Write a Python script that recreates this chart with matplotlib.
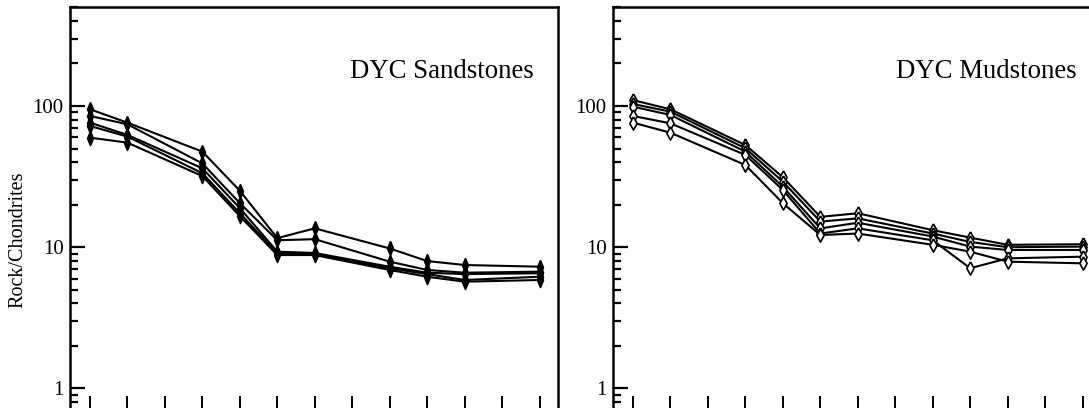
import matplotlib
matplotlib.use("Agg")
import matplotlib.pyplot as plt
from matplotlib.ticker import LogLocator, FixedLocator, FixedFormatter, NullFormatter

# ---- data -------------------------------------------------------------
ree_ticks = ["La", "Ce", "Pr", "Nd", "Sm", "Eu", "Gd", "Tb", "Dy", "Ho", "Er", "Tm", "Yb"]
elements = ["La", "Ce", "Nd", "Sm", "Eu", "Gd", "Dy", "Ho", "Er", "Yb"]

sandstones = [
    [94.8, 76.2, 47.5, 25.1, 11.6, 13.6, 9.8, 7.98, 7.48, 7.28],
    [85.0, 74.2, 39.2, 20.5, 11.2, 11.4, 7.9, 6.9, 6.6, 6.71],
    [76.2, 62.4, 36.2, 18.9, 9.3, 9.1, 7.27, 6.6, 6.45, 6.54],
    [72.2, 60.7, 33.4, 17.4, 9.05, 8.96, 7.09, 6.45, 5.86, 6.18],
    [59.7, 55.0, 31.9, 16.6, 8.8, 8.8, 6.9, 6.18, 5.7, 5.86],
]
mudstones = [
    [110.0, 94.8, 52.9, 31.3, 16.4, 17.4, 13.2, 11.7, 10.4, 10.5],
    [103.3, 91.2, 50.2, 29.1, 15.2, 16.0, 12.5, 10.9, 10.0, 10.1],
    [98.9, 86.4, 47.5, 26.8, 13.6, 14.9, 11.9, 10.1, 9.56, 9.56],
    [85.0, 75.4, 45.0, 25.4, 12.5, 13.6, 11.2, 7.1, 8.34, 8.57],
    [76.2, 64.7, 38.2, 20.5, 12.2, 12.5, 10.4, 9.3, 7.9, 7.69],
]
titles = ["DYC Sandstones", "DYC Mudstones"]
ylabel = "Rock/Chondrites"
ytick_vals = [1, 10, 100]
ytick_labels = ["1", "10", "100"]

# ---- style ------------------------------------------------------------
plt.rcParams["font.family"] = ["Liberation Serif", "DejaVu Serif"]
W, H = 1089, 408
fig = plt.figure(figsize=(W / 100, H / 100), dpi=100)


def px_axes(left, top, right, bottom):
    return [left / W, 1 - bottom / H, (right - left) / W, (bottom - top) / H]


ax1 = fig.add_axes(px_axes(70, 7.3, 558.3, 411))
ax2 = fig.add_axes(px_axes(613, 7.3, 1101.3, 411))

xpos = [ree_ticks.index(e) for e in elements]

thin_diamond = [(0, 1), (0.42, 0), (0, -1), (-0.42, 0), (0, 1)]
open_diamond = [(0, 1), (0.55, 0), (0, -1), (-0.55, 0), (0, 1)]

for ax, data, title, filled in [(ax1, sandstones, titles[0], True),
                                (ax2, mudstones, titles[1], False)]:
    for series in data:
        ax.plot(xpos, series, color="black", lw=1.5,
                marker=thin_diamond if filled else open_diamond,
                markersize=10 if filled else 9.5,
                markerfacecolor="black" if filled else "white",
                markeredgecolor="black", markeredgewidth=1.2)
    ax.set_yscale("log")
    ax.set_ylim(0.692, 500)
    ax.set_xlim(-0.534, 12.5)
    ax.yaxis.set_major_locator(FixedLocator(ytick_vals))
    ax.yaxis.set_major_formatter(FixedFormatter(ytick_labels))
    ax.yaxis.set_minor_locator(LogLocator(base=10, subs=range(2, 10), numticks=20))
    ax.yaxis.set_minor_formatter(NullFormatter())
    ax.set_xticks(range(len(ree_ticks)))
    ax.tick_params(axis="y", which="major", direction="in", length=10.5, width=1.6,
                   labelsize=15, pad=4.5, right=False)
    ax.tick_params(axis="y", which="minor", direction="in", length=5.8, width=1.6,
                   right=False)
    ax.tick_params(axis="x", which="major", direction="in", length=10.5, width=1.4,
                   top=False, labelbottom=False)
    for sp in ax.spines.values():
        sp.set_linewidth(1.8)
    ax.text(0.9488, 0.8246, title, transform=ax.transAxes, ha="right",
            va="baseline", fontsize=19.3)

fig.text(18.3 / W, 1 - 240 / H, ylabel, rotation=90, ha="center", va="center",
         fontsize=14.5)

fig.savefig("out.png", dpi=100)
